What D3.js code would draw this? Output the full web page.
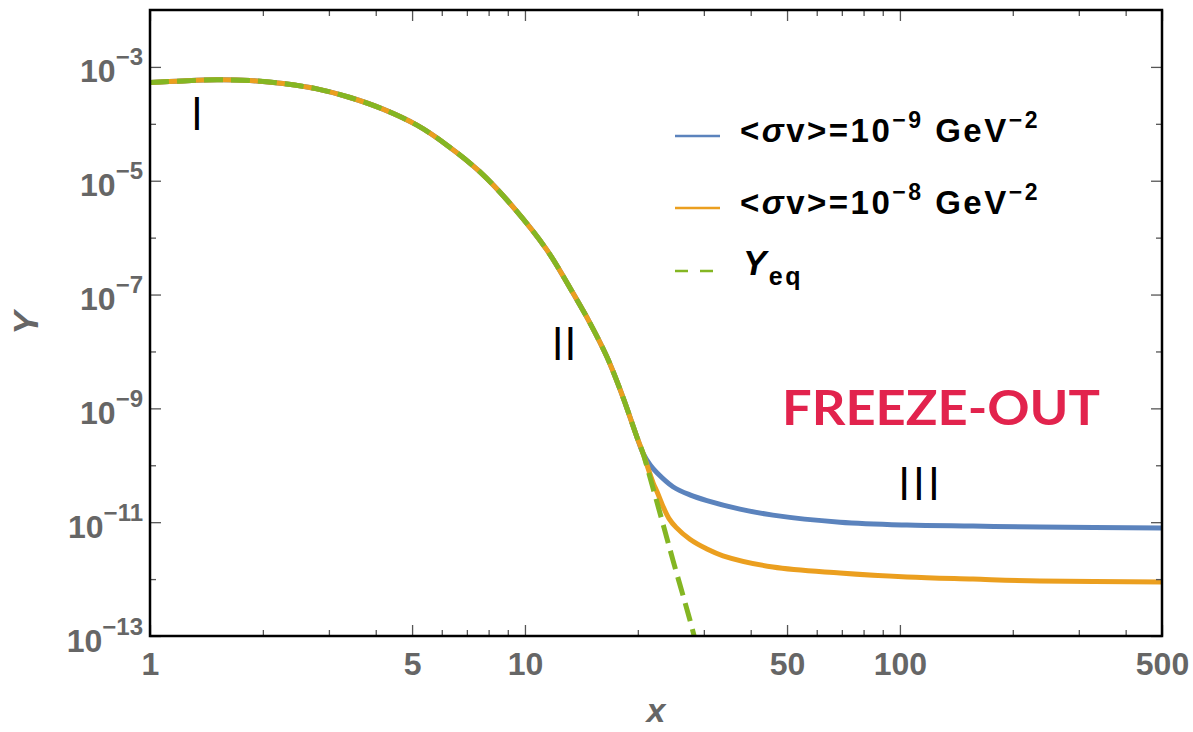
<!doctype html>
<html>
<head>
<meta charset="utf-8">
<title>Y vs x, freeze-out</title>
<script src="https://d3js.org/d3.v7.min.js"></script>
<style>
body { margin: 0; background: #fff; }
.axis path { display: none; }
.axis line { stroke: #555; stroke-width: 1.3px; }
.axis text { font-family: "Liberation Sans", Arial, sans-serif; font-weight: bold; fill: #666; font-size: 32px; }
.region { font-family: "Open Sans", sans-serif; font-size: 46px; fill: #000; }
.legend text { font-family: "Liberation Sans", Arial, sans-serif; font-weight: bold; font-size: 33px; fill: #000; letter-spacing: 2.5px; }
</style>
</head>
<body>
<svg width="1193" height="732"></svg>
<script>

// values
var xEq = [1, 1.224, 1.509, 1.848, 2.263, 2.788, 3.415, 4.182, 5.152, 6.195, 7.586, 9.29,
           11.45, 13.43, 14.91, 16.55, 18.25, 19.89, 20.64, 21.15, 22.91, 24.81, 27.54, 28.6];
var yEq = [5.32e-4, 5.68e-4, 5.92e-4, 5.77e-4, 5.11e-4, 4.11e-4, 2.90e-4, 1.81e-4, 9.46e-5, 4.22e-5, 1.43e-5, 3.48e-6,
           6.03e-7, 1.06e-7, 3.15e-8, 7.96e-9, 1.58e-9, 3.13e-10, 1.64e-10, 9.5e-11, 1.45e-11, 2.16e-12, 1.91e-13, 7.4e-14];

// shared part: both solutions follow equilibrium up to x ~ 20.6
var nShared = 19;

var xBlueTail = [21.6, 22.49, 24.81, 27.54, 30.57, 37.44, 45.84, 69.18, 104.4, 156.6, 236.2, 500];
var yBlueTail = [1.0e-10, 7.4e-11, 4.2e-11, 3.02e-11, 2.40e-11, 1.70e-11, 1.33e-11, 1.00e-11, 8.91e-12, 8.55e-12, 8.22e-12, 7.89e-12];

var xOrangeTail = [21.99, 22.49, 23.33, 24.2, 25.3, 27.54, 30.5, 33.73, 45.84, 69.18, 104.4, 156.6, 236.2, 500];
var yOrangeTail = [4.81e-11, 3.47e-11, 1.91e-11, 1.17e-11, 8.1e-12, 5.0e-12, 3.4e-12, 2.57e-12, 1.63e-12, 1.28e-12, 1.09e-12, 1.00e-12, 9.25e-13, 8.89e-13];

var xMajor = [1, 5, 10, 50, 100, 500];
var xMinor = [2, 3, 4, 6, 7, 8, 9, 20, 30, 40, 60, 70, 80, 90, 200, 300, 400];
var yMajor = [1e-13, 1e-11, 1e-9, 1e-7, 1e-5, 1e-3];
var yMinor = [1e-12, 1e-10, 1e-8, 1e-6, 1e-4];

var sigmaExp = [-9, -8];
var colors = ["#5b83bd", "#eb9f1f", "#84b623"];

var svg = d3.select("svg"),
    margin = {top: 10, right: 31, bottom: 96, left: 150},
    width = +svg.attr("width") - margin.left - margin.right,
    height = +svg.attr("height") - margin.top - margin.bottom;

svg.append("rect").attr("width", 1193).attr("height", 732).attr("fill", "#fff");

var x = d3.scaleLog().domain([1, 500]).range([0, width]),
    y = d3.scaleLog().domain([1e-13, 1e-2]).range([height, 0]);

var g = svg.append("g")
    .attr("transform", "translate(" + margin.left + "," + margin.top + ")");

g.append("clipPath").attr("id", "plotclip")
  .append("rect").attr("width", width).attr("height", height);

function zip(xs, ys) { return xs.map(function(d, i) { return [d, ys[i]]; }); }

var shared = zip(xEq.slice(0, nShared), yEq.slice(0, nShared));
var series = [
  shared.concat(zip(xBlueTail, yBlueTail)),
  shared.concat(zip(xOrangeTail, yOrangeTail)),
  zip(xEq, yEq)
];

var line = d3.line()
    .x(function(d) { return x(d[0]); })
    .y(function(d) { return y(d[1]); })
    .curve(d3.curveCatmullRom.alpha(0.5));

g.append("g").attr("clip-path", "url(#plotclip)")
  .selectAll("path")
  .data(series)
  .enter().append("path")
    .attr("d", line)
    .attr("fill", "none")
    .attr("stroke", function(d, i) { return colors[i]; })
    .attr("stroke-width", 5)
    .attr("stroke-dasharray", function(d, i) { return i == 2 ? "19,8" : null; });

// axes, ticks pointing inwards on all four sides
g.append("g").attr("class", "axis")
  .attr("transform", "translate(0," + height + ")")
  .call(d3.axisBottom(x).tickValues(xMajor).tickSize(-11).tickPadding(16).tickFormat(d3.format("d")));
g.append("g").attr("class", "axis")
  .attr("transform", "translate(0," + height + ")")
  .call(d3.axisBottom(x).tickValues(xMinor).tickSize(-6).tickFormat(""));
g.append("g").attr("class", "axis")
  .call(d3.axisTop(x).tickValues(xMajor).tickSize(-11).tickFormat(""));
g.append("g").attr("class", "axis")
  .call(d3.axisTop(x).tickValues(xMinor).tickSize(-6).tickFormat(""));

var yAxis = g.append("g").attr("class", "axis")
  .call(d3.axisLeft(y).tickValues(yMajor).tickSize(-11).tickPadding(7).tickFormat(function() { return "10"; }));
yAxis.selectAll(".tick text")
    .attr("dy", 15)
  .append("tspan")
    .attr("dy", -17)
    .style("font-size", "24px")
    .text(function(d) { return "\u2212" + Math.abs(Math.round(Math.log10(d))); });

g.append("g").attr("class", "axis")
  .call(d3.axisLeft(y).tickValues(yMinor).tickSize(-6).tickFormat(""));
g.append("g").attr("class", "axis")
  .attr("transform", "translate(" + width + ",0)")
  .call(d3.axisRight(y).tickValues(yMajor).tickSize(-11).tickFormat(""));
g.append("g").attr("class", "axis")
  .attr("transform", "translate(" + width + ",0)")
  .call(d3.axisRight(y).tickValues(yMinor).tickSize(-6).tickFormat(""));

g.append("rect")
    .attr("width", width).attr("height", height)
    .attr("fill", "none").attr("stroke", "#000").attr("stroke-width", 2.5);

// axis titles
g.append("text")
    .attr("x", width / 2).attr("y", 712)
    .attr("text-anchor", "middle")
    .style("font", "italic bold 34px 'Liberation Sans', Arial, sans-serif")
    .attr("fill", "#666")
    .text("x");
g.append("text")
    .attr("transform", "translate(-112," + height / 2 + ") rotate(-90)")
    .attr("text-anchor", "middle")
    .style("font", "italic bold 35px 'Liberation Sans', Arial, sans-serif")
    .attr("fill", "#666")
    .text("Y");

// region labels
g.append("text").attr("class", "region").attr("x", 47).attr("y", 120).attr("text-anchor", "middle").text("I");
g.append("text").attr("class", "region").attr("x", 414).attr("y", 350).attr("text-anchor", "middle").text("II");
g.append("text").attr("class", "region").attr("x", 770).attr("y", 490).attr("text-anchor", "middle")
    .style("letter-spacing", "2px").text("III");

g.append("text")
    .attr("x", 632).attr("y", 415)
    .attr("textLength", 318).attr("lengthAdjust", "spacingAndGlyphs")
    .style("font", "bold 48px Lato, 'Open Sans', sans-serif")
    .attr("fill", "#e2234d")
    .text("FREEZE-OUT");

// legend
var legend = g.append("g").attr("class", "legend").attr("transform", "translate(525,0)");
var rows = [126, 198, 261];

rows.forEach(function(ry, i) {
  legend.append("line")
      .attr("x1", 0).attr("x2", 45).attr("y1", ry).attr("y2", ry)
      .attr("stroke", colors[i]).attr("stroke-width", 2.5)
      .attr("stroke-dasharray", i == 2 ? "13,12" : null);
});

sigmaExp.forEach(function(e, i) {
  var t = legend.append("text").attr("x", 65).attr("y", rows[i] + 6);
  t.append("tspan").text("<");
  t.append("tspan").style("font-style", "italic").text("\u03c3");
  t.append("tspan").text("v>=10");
  t.append("tspan").attr("dy", -14).style("font-size", "23px").text("\u2212" + Math.abs(e));
  t.append("tspan").attr("dy", 14).text(" GeV");
  t.append("tspan").attr("dy", -14).style("font-size", "23px").text("\u22122");
});

var teq = legend.append("text").attr("x", 68).attr("y", rows[2] + 4);
teq.append("tspan").style("font-style", "italic").style("font-size", "35px").text("Y");
teq.append("tspan").attr("dy", 10).style("font-size", "25px").text("eq");

</script>
</body>
</html>
